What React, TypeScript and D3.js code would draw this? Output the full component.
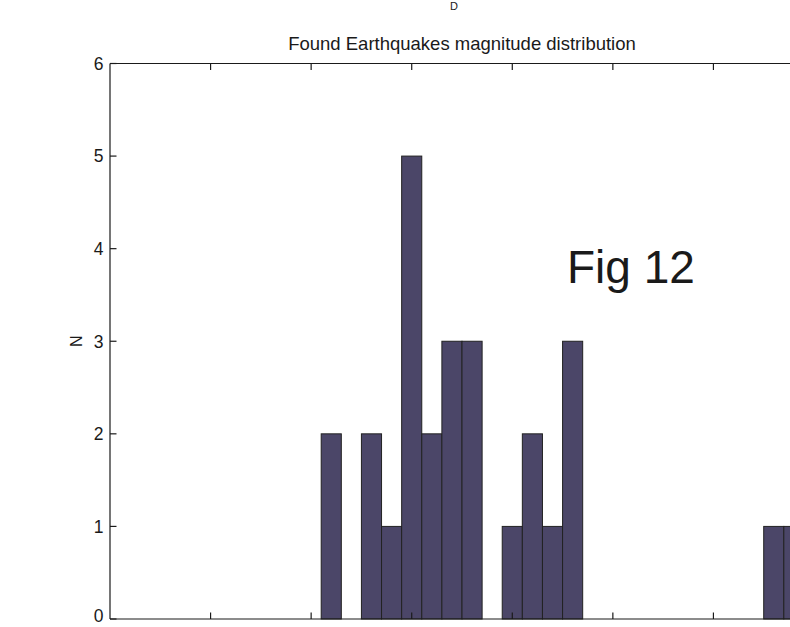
import React, { useEffect, useRef } from 'react';
import * as d3 from 'd3';

// histogram bins (centres) and counts
const binCenters = [2.2, 2.4, 2.6, 2.8, 3.0, 3.2, 3.4, 3.6, 3.8, 4.0, 4.2, 4.4, 4.6, 6.6, 6.8];
const counts = [2, 0, 2, 1, 5, 2, 3, 3, 0, 1, 2, 1, 3, 1, 1];
const xTicks = [0, 1, 2, 3, 4, 5, 6, 7];
const yTicks = [0, 1, 2, 3, 4, 5, 6];
const binWidth = 0.2;

export default function App() {
  const svgRef = useRef<SVGSVGElement | null>(null);

  useEffect(() => {
    if (!svgRef.current) return;
    const width = 790;
    const height = 627;
    const left = 110;
    const right = 814;
    const top = 63.5;
    const bottom = 619;
    const font = 'Liberation Sans, Arial, Helvetica, sans-serif';

    const svg = d3.select(svgRef.current);
    svg.selectAll('*').remove();
    svg.attr('width', width).attr('height', height);

    svg.append('rect').attr('width', width).attr('height', height).attr('fill', '#fff');

    const x = d3.scaleLinear().domain([0, 7]).range([left, right]);
    const y = d3.scaleLinear().domain([0, 6]).range([bottom, top]);

    const data = binCenters.map((c, i) => ({ c, n: counts[i] }));

    // bars
    svg.append('g')
      .selectAll('rect')
      .data(data.filter(d => d.n > 0))
      .enter()
      .append('rect')
      .attr('x', d => x(d.c - binWidth / 2))
      .attr('y', d => y(d.n))
      .attr('width', d => x(d.c + binWidth / 2) - x(d.c - binWidth / 2))
      .attr('height', d => y(0) - y(d.n))
      .attr('fill', '#4b4668')
      .attr('stroke', '#222')
      .attr('stroke-width', 1);

    // axes box
    const axis = svg.append('g').attr('stroke', '#1a1a1a').attr('stroke-width', 1.2).attr('fill', 'none');
    axis.append('line').attr('x1', left).attr('x2', right).attr('y1', top).attr('y2', top);
    axis.append('line').attr('x1', left).attr('x2', right).attr('y1', bottom).attr('y2', bottom);
    axis.append('line').attr('x1', left).attr('x2', left).attr('y1', top).attr('y2', bottom);
    axis.append('line').attr('x1', right).attr('x2', right).attr('y1', top).attr('y2', bottom);

    const tickLen = 6.5;
    xTicks.slice(1, -1).forEach(t => {
      axis.append('line').attr('x1', x(t)).attr('x2', x(t)).attr('y1', bottom).attr('y2', bottom - tickLen);
      axis.append('line').attr('x1', x(t)).attr('x2', x(t)).attr('y1', top).attr('y2', top + tickLen);
    });
    yTicks.forEach(t => {
      axis.append('line').attr('x1', left).attr('x2', left + tickLen).attr('y1', y(t)).attr('y2', y(t));
      axis.append('line').attr('x1', right).attr('x2', right - tickLen).attr('y1', y(t)).attr('y2', y(t));
    });

    // y tick labels (the 0 is nudged up so it stays inside the page)
    svg.append('g')
      .selectAll('text')
      .data(yTicks)
      .enter()
      .append('text')
      .attr('x', left - 6.5)
      .attr('y', d => (d === 0 ? y(d) - 3 : y(d)))
      .attr('dy', '0.36em')
      .attr('text-anchor', 'end')
      .attr('font-family', font)
      .attr('font-size', 17.5)
      .attr('fill', '#1a1a1a')
      .text(d => d);

    // y label
    svg.append('text')
      .attr('transform', `translate(82, ${(top + bottom) / 2}) rotate(-90)`)
      .attr('text-anchor', 'middle')
      .attr('font-family', font)
      .attr('font-size', 16)
      .attr('fill', '#1a1a1a')
      .text('N');

    // title
    svg.append('text')
      .attr('x', (left + right) / 2)
      .attr('y', 50)
      .attr('text-anchor', 'middle')
      .attr('font-family', font)
      .attr('font-size', 18.5)
      .attr('fill', '#1a1a1a')
      .text('Found Earthquakes magnitude distribution');

    svg.append('text')
      .attr('x', 454)
      .attr('y', 9.5)
      .attr('text-anchor', 'middle')
      .attr('font-family', font)
      .attr('font-size', 11)
      .attr('fill', '#1a1a1a')
      .text('D');

    // annotation
    svg.append('text')
      .attr('x', 567)
      .attr('y', 283)
      .attr('font-family', font)
      .attr('font-size', 46)
      .attr('fill', '#1a1a1a')
      .text('Fig 12');
  }, []);

  return (
    <div style={{ position: 'absolute', left: 0, top: 0 }}>
      <svg ref={svgRef} style={{ display: 'block' }}></svg>
    </div>
  );
}
